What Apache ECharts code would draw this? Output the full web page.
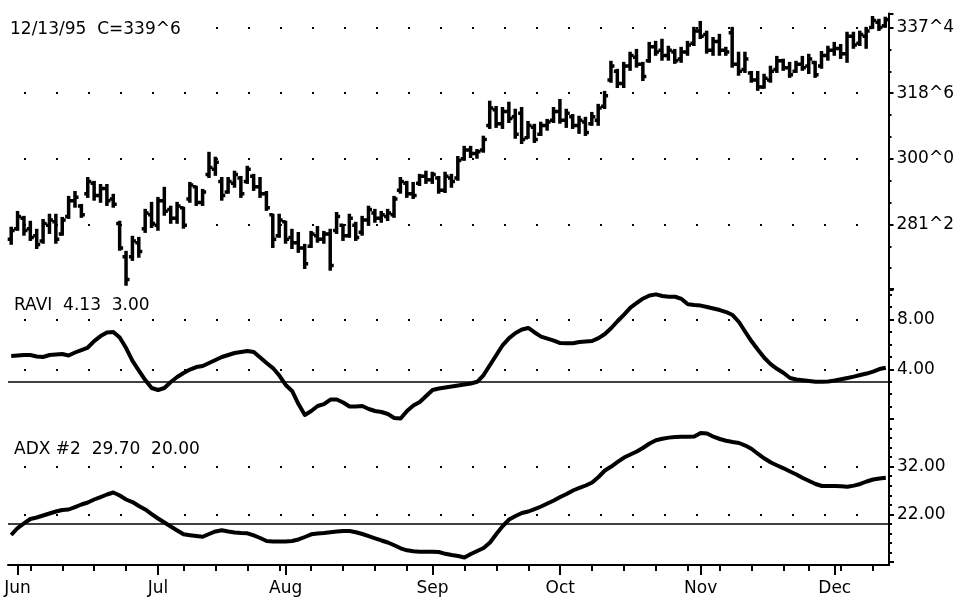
<!DOCTYPE html>
<html>
<head>
<meta charset="utf-8">
<script src="https://cdn.jsdelivr.net/npm/echarts@6/dist/echarts.min.js"></script>
<style>
html, body { margin: 0; padding: 0; background: #fff; }
#main { width: 957px; height: 599px; }
</style>
</head>
<body>
<div id="main"></div>
<script>
// trading days shown, 31 May - 13 Dec 1995
var monthNames = ['May', 'Jun', 'Jul', 'Aug', 'Sep', 'Oct', 'Nov', 'Dec'];
var tradingDays = [
    [31],
    [1, 2, 5, 6, 7, 8, 9, 12, 13, 14, 15, 16, 19, 20, 21, 22, 23, 26, 27, 28, 29, 30],
    [3, 5, 6, 7, 10, 11, 12, 13, 14, 17, 18, 19, 20, 21, 24, 25, 26, 27, 28, 31],
    [1, 2, 3, 4, 7, 8, 9, 10, 11, 14, 15, 16, 17, 18, 21, 22, 23, 24, 25, 28, 29, 30, 31],
    [1, 5, 6, 7, 8, 11, 12, 13, 14, 15, 18, 19, 20, 21, 22, 25, 26, 27, 28, 29],
    [2, 3, 4, 5, 6, 9, 10, 11, 12, 13, 16, 17, 18, 19, 20, 23, 24, 25, 26, 27, 30, 31],
    [1, 2, 3, 6, 7, 8, 9, 10, 13, 14, 15, 16, 17, 20, 21, 22, 24, 27, 28, 29, 30],
    [1, 4, 5, 6, 7, 8, 11, 12, 13]
];

// daily bars
var opens = [
    277, 280, 283, 280, 278, 276.5, 281, 282, 278.5, 283.5,
    288, 286.5, 290, 293, 289.5, 291.5, 288.5, 281.5, 272, 272,
    276, 280, 284, 281, 288, 285.5, 283, 286, 288.5, 292,
    287.5, 295.5, 297, 293.5, 290.5, 293, 294.5, 293.5, 295, 292,
    290, 284, 278, 282, 277.5, 276, 274.5, 275, 278, 277,
    278.5, 279.5, 281, 278, 281, 279, 282.5, 284.5, 283, 283.5,
    284, 291, 293, 290, 293, 295, 294, 294.5, 291, 294.5,
    294.5, 300, 302.5, 301.5, 302.5, 309.5, 314, 310, 313.5, 312,
    313, 306, 309, 307, 309.5, 311, 313.5, 311, 312, 309.5,
    310.5, 310, 311, 315, 322.5, 325, 321.5, 326.5, 329, 327,
    328, 332, 331, 329.5, 330.5, 328.5, 330.5, 333, 336.5, 335.5,
    331, 333.5, 331, 336, 327, 325.5, 324.5, 322.5, 320.5, 322.5,
    325.5, 328, 326, 325, 327, 326.5, 327.5, 326.5, 329.5, 331,
    331.5, 330, 335, 333, 335, 337.5, 339, 338
];
var highs = [
    280.3, 284.8, 283.4, 282.0, 279.7, 282.5, 284.0, 284.0, 283.1, 289.1,
    290.5, 286.8, 294.5, 293.4, 292.5, 292.5, 289.7, 282.0, 273.4, 277.7,
    277.4, 285.4, 287.4, 288.8, 291.7, 286.3, 287.4, 286.0, 293.1, 292.0,
    291.1, 301.7, 300.3, 294.5, 294.5, 296.3, 294.8, 297.7, 295.4, 294.5,
    290.5, 284.0, 284.0, 282.0, 279.7, 278.8, 275.4, 279.1, 280.5, 279.1,
    279.7, 284.5, 281.1, 284.0, 281.7, 283.4, 286.3, 285.4, 284.8, 285.4,
    289.1, 294.5, 293.4, 293.1, 295.4, 296.3, 296.0, 294.8, 296.0, 295.4,
    300.5, 303.4, 303.4, 302.5, 306.3, 316.3, 314.8, 314.5, 316.0, 314.0,
    314.5, 310.5, 309.7, 310.3, 311.1, 314.5, 316.8, 314.0, 312.5, 312.0,
    311.7, 313.1, 315.4, 319.1, 327.7, 325.4, 327.4, 330.3, 331.1, 327.4,
    333.1, 333.4, 334.0, 332.0, 331.1, 331.7, 333.4, 337.4, 339.1, 336.3,
    334.5, 335.4, 331.7, 337.4, 330.3, 330.3, 324.8, 324.8, 324.0, 326.3,
    329.1, 328.3, 327.4, 327.7, 329.1, 329.7, 327.7, 330.5, 332.0, 333.1,
    332.5, 336.0, 336.0, 336.3, 337.4, 340.5, 339.7, 340.3
];
var lows = [
    275.7, 279.7, 278.3, 276.8, 274.5, 276.0, 278.8, 276.0, 278.3, 283.1,
    286.3, 283.4, 289.1, 288.3, 287.7, 286.8, 286.3, 274.0, 264.0, 271.1,
    272.0, 279.1, 280.5, 279.7, 284.0, 281.7, 281.7, 280.3, 287.7, 286.8,
    286.8, 294.8, 295.4, 288.3, 290.3, 292.0, 289.1, 293.1, 291.1, 289.1,
    285.4, 274.8, 277.7, 276.0, 274.5, 273.4, 268.8, 274.8, 276.3, 276.0,
    268.3, 278.8, 276.8, 277.7, 276.8, 278.3, 281.1, 282.0, 282.0, 282.5,
    283.4, 290.3, 289.1, 288.8, 292.5, 293.1, 293.1, 290.3, 290.5, 292.0,
    294.0, 299.7, 300.5, 300.3, 302.0, 308.8, 309.1, 308.8, 310.5, 306.0,
    304.5, 306.0, 304.8, 306.8, 308.3, 310.5, 310.3, 309.1, 308.8, 307.4,
    306.8, 309.7, 309.7, 314.5, 322.0, 320.5, 320.5, 325.4, 326.3, 322.5,
    327.7, 329.7, 328.3, 328.3, 327.4, 327.7, 329.7, 332.5, 334.5, 330.3,
    329.7, 329.7, 329.7, 326.3, 324.0, 324.8, 322.0, 319.7, 320.3, 322.0,
    324.8, 325.4, 323.4, 324.8, 325.4, 324.5, 323.4, 326.0, 328.3, 329.7,
    328.8, 327.7, 331.7, 332.5, 331.7, 337.4, 336.8, 337.7
];
var closes = [
    279.5, 283.5, 279.5, 277.5, 275.5, 281.5, 282.5, 277, 282.5, 288,
    289, 284, 293.5, 289.5, 291.5, 288, 287, 274.5, 265.5, 276.5,
    273.5, 284.5, 281.5, 288, 285, 283, 286.5, 281, 292.5, 287.5,
    290.5, 297.5, 299, 289.5, 293.5, 295.5, 290, 297, 292, 290,
    286, 277, 282.5, 277, 276, 274.5, 270, 278.5, 277, 278.5,
    269.5, 283.5, 278, 283, 277.5, 282.5, 285.5, 283, 284, 284.5,
    288.5, 293.5, 290, 289.5, 295, 294, 295.5, 291, 295, 293.5,
    299.5, 302.5, 301.5, 302, 305.5, 314.5, 310, 313.5, 311.5, 307,
    305.5, 309.5, 305.5, 309.5, 310.5, 313.5, 311, 313, 309.5, 311,
    307.5, 312, 314.5, 318, 326.5, 321.5, 326.5, 329.5, 327, 323.5,
    332, 330.5, 329.5, 331, 328, 330.5, 332.5, 336.5, 335, 331,
    333.5, 331, 330.5, 327, 325, 328.5, 322.5, 320.5, 323, 325,
    328, 326, 324, 327, 326, 328.5, 324, 329.5, 331, 331.5,
    330, 335, 332.5, 335.5, 336.5, 339.5, 337.5, 339.75
];

var ravi = [
    5.07, 5.11, 5.15, 5.15, 5.03, 4.99, 5.15, 5.19, 5.23, 5.11,
    5.35, 5.55, 5.75, 6.27, 6.67, 6.96, 7.00, 6.55, 5.71, 4.67,
    3.90, 3.14, 2.50, 2.34, 2.50, 2.98, 3.38, 3.70, 3.98, 4.18,
    4.27, 4.51, 4.75, 4.99, 5.15, 5.31, 5.39, 5.47, 5.39, 4.95,
    4.51, 4.10, 3.50, 2.74, 2.26, 1.21, 0.33, 0.65, 1.05, 1.21,
    1.57, 1.57, 1.33, 1.01, 1.01, 1.05, 0.81, 0.65, 0.57, 0.41,
    0.09, 0.05, 0.65, 1.09, 1.37, 1.86, 2.34, 2.46, 2.54, 2.62,
    2.70, 2.78, 2.86, 3.00, 3.54, 4.35, 5.15, 5.95, 6.51, 6.92,
    7.20, 7.32, 6.96, 6.63, 6.47, 6.31, 6.11, 6.09, 6.09, 6.19,
    6.23, 6.27, 6.51, 6.84, 7.32, 7.88, 8.40, 8.96, 9.33, 9.69,
    9.93, 10.02, 9.89, 9.83, 9.83, 9.65, 9.22, 9.16, 9.12, 9.00,
    8.88, 8.76, 8.60, 8.36, 7.80, 7.00, 6.23, 5.55, 4.91, 4.40,
    4.02, 3.70, 3.30, 3.18, 3.12, 3.06, 3.00, 3.00, 3.02, 3.10,
    3.20, 3.30, 3.41, 3.54, 3.66, 3.82, 4.02, 4.13
];
var adx = [
    17.65, 19.12, 20.07, 21.01, 21.33, 21.75, 22.17, 22.59, 22.90, 23.01,
    23.53, 24.06, 24.48, 25.11, 25.63, 26.16, 26.58, 25.95, 25.11, 24.58,
    23.74, 23.01, 22.06, 21.12, 20.28, 19.44, 18.60, 17.80, 17.61, 17.44,
    17.29, 17.86, 18.39, 18.64, 18.39, 18.18, 18.07, 18.01, 17.55, 17.02,
    16.39, 16.29, 16.29, 16.29, 16.39, 16.71, 17.23, 17.80, 17.97, 18.07,
    18.22, 18.39, 18.49, 18.49, 18.22, 17.86, 17.40, 16.96, 16.50, 16.08,
    15.49, 14.86, 14.44, 14.25, 14.14, 14.14, 14.14, 14.08, 13.70, 13.45,
    13.24, 12.92, 13.66, 14.29, 14.92, 16.08, 17.86, 19.54, 20.91, 21.64,
    22.27, 22.59, 23.11, 23.64, 24.27, 24.90, 25.63, 26.26, 27.00, 27.53,
    28.05, 28.68, 29.84, 31.20, 32.04, 32.99, 33.93, 34.56, 35.19, 35.99,
    36.87, 37.55, 37.86, 38.11, 38.24, 38.30, 38.30, 38.34, 39.08, 38.97,
    38.30, 37.82, 37.46, 37.19, 36.98, 36.45, 35.72, 34.67, 33.72, 32.88,
    32.25, 31.66, 30.99, 30.36, 29.63, 29.00, 28.37, 27.95, 27.95, 27.95,
    27.88, 27.80, 28.03, 28.37, 28.89, 29.31, 29.52, 29.70
];
var raviLevel = 3;
var adxLevel = 20;

var FONT = '"DejaVu Sans", Arial, sans-serif';
var FS = 17;
var INK = '#000';

// category list + which days carry a week / month tick
var dates = [], monthStart = [], weekStart = [];
tradingDays.forEach(function (days, m) {
    days.forEach(function (d, k) {
        var i = dates.length;
        dates.push(monthNames[m] + ' ' + d);
        monthStart[i] = (k === 0 && m > 0);
        weekStart[i] = new Date(1995, m + 4, d).getDay() === 1;
    });
});

var priceRows = dates.map(function (d, i) {
    return [i, opens[i], highs[i], lows[i], closes[i]];
});

// 337.5 -> 337^4 (eighths)
function priceFmt(v) {
    var whole = Math.floor(v + 1e-9);
    return whole + '^' + Math.round((v - whole) * 8);
}

function renderOhlc(params, api) {
    var i = api.value(0);
    var o = api.coord([i, api.value(1)]);
    var h = api.coord([i, api.value(2)]);
    var l = api.coord([i, api.value(3)]);
    var c = api.coord([i, api.value(4)]);
    var st = { stroke: INK, lineWidth: 3.5 };
    return {
        type: 'group',
        children: [
            { type: 'line', shape: { x1: h[0], y1: h[1] - 1, x2: l[0], y2: l[1] + 1 }, style: st },
            { type: 'line', shape: { x1: o[0] - 3.5, y1: o[1], x2: o[0], y2: o[1] }, style: st },
            { type: 'line', shape: { x1: c[0], y1: c[1], x2: c[0] + 3.5, y2: c[1] }, style: st }
        ]
    };
}

var dots = { color: INK, width: 2, type: [2, 30], dashOffset: 16 };
var tickLine = { color: INK, width: 2 };
var labelStyle = { color: INK, fontSize: FS, fontFamily: FONT, margin: 8 };
var titleStyle = { color: INK, fontSize: FS, fontWeight: 'normal', fontFamily: FONT };

function panelY(grid, min, max, step, minorSplit, fmt) {
    return {
        type: 'value', gridIndex: grid, position: 'right',
        min: min, max: max, interval: step,
        axisLine: { show: false },
        axisTick: { show: true, length: 5, lineStyle: tickLine },
        minorTick: { show: true, splitNumber: minorSplit, length: 3, lineStyle: tickLine },
        axisLabel: Object.assign({ showMinLabel: false, showMaxLabel: false, formatter: fmt }, labelStyle),
        splitLine: { show: true, showMinLine: false, showMaxLine: false, lineStyle: dots }
    };
}

function hiddenX(grid) {
    return { type: 'category', gridIndex: grid, data: dates, show: false };
}

function twoDp(v) { return v.toFixed(2); }

var L = 8, W = 881;

var myChart = echarts.init(document.getElementById('main'));

option = {
    animation: false,
    backgroundColor: '#fff',
    textStyle: { fontFamily: FONT },
    title: [
        { text: '12/13/95  C=339^6', left: 10, top: 21, padding: [0, 12, 0, 0], backgroundColor: '#fff', textStyle: titleStyle },
        { text: 'RAVI  4.13  3.00', left: 14, top: 297, padding: 0, textStyle: titleStyle },
        { text: 'ADX #2  29.70  20.00', left: 14, top: 441, padding: 0, textStyle: titleStyle }
    ],
    grid: [
        { left: L, width: W, top: 13.5, height: 276.5 },
        { left: L, width: W, top: 288.4, height: 130.7 },
        { left: L, width: W, top: 419.1, height: 142.8 },
        { left: L, width: W, top: 13.5, height: 551.5 },
        { left: L, width: W, top: 13.5, height: 551.5 }
    ],
    xAxis: [
        hiddenX(0),
        hiddenX(1),
        hiddenX(2),
        {
            // week ticks on the bottom line
            type: 'category', gridIndex: 3, data: dates,
            axisLine: { show: true, lineStyle: tickLine },
            axisTick: {
                show: true, alignWithLabel: true, length: 6, lineStyle: tickLine,
                interval: function (i) { return weekStart[i]; }
            },
            axisLabel: { show: false },
            splitLine: { show: false }
        },
        {
            // month ticks + names
            type: 'category', gridIndex: 4, data: dates,
            axisLine: { show: false },
            axisTick: {
                show: true, alignWithLabel: true, length: 10, lineStyle: tickLine,
                interval: function (i) { return monthStart[i]; }
            },
            axisLabel: {
                color: INK, fontSize: FS, fontFamily: FONT, margin: 15,
                interval: function (i) { return monthStart[i]; },
                formatter: function (v) { return v.split(' ')[0]; }
            },
            splitLine: { show: false }
        }
    ],
    yAxis: [
        panelY(0, 262.5, 341.5, 18.75, 3, priceFmt),
        panelY(1, 0, 10.5, 4, 4, twoDp),
        panelY(2, 12, 42, 10, 5, twoDp),
        {
            type: 'value', gridIndex: 3, position: 'right', min: 0, max: 1,
            axisLine: { show: true, lineStyle: tickLine },
            axisTick: { show: false }, axisLabel: { show: false }, splitLine: { show: false }
        },
        { type: 'value', gridIndex: 4, min: 0, max: 1, show: false }
    ],
    series: [
        {
            type: 'custom', name: 'Price',
            xAxisIndex: 0, yAxisIndex: 0,
            renderItem: renderOhlc,
            encode: { x: 0, y: [1, 2, 3, 4] },
            data: priceRows
        },
        {
            type: 'line', name: 'RAVI',
            xAxisIndex: 1, yAxisIndex: 1,
            data: ravi, symbol: 'none',
            itemStyle: { color: INK },
            lineStyle: { color: INK, width: 4, join: 'round' },
            markLine: {
                silent: true, symbol: 'none', label: { show: false },
                lineStyle: { color: INK, width: 1.6, type: 'solid' },
                data: [{ yAxis: raviLevel }]
            }
        },
        {
            type: 'line', name: 'ADX',
            xAxisIndex: 2, yAxisIndex: 2,
            data: adx, symbol: 'none',
            itemStyle: { color: INK },
            lineStyle: { color: INK, width: 4, join: 'round' },
            markLine: {
                silent: true, symbol: 'none', label: { show: false },
                lineStyle: { color: INK, width: 1.6, type: 'solid' },
                data: [{ yAxis: adxLevel }]
            }
        }
    ]
};
myChart.setOption(option);
</script>
</body>
</html>
